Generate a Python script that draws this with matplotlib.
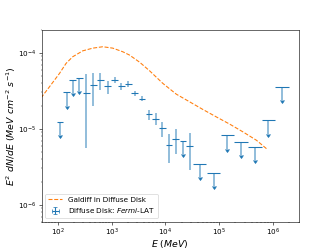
import numpy as np
import matplotlib
matplotlib.use("Agg")
import matplotlib.pyplot as plt

# model curve (Galdiff)
model_e = [49, 70, 108, 143, 190, 292, 448, 687, 1055, 1618, 2157, 3330,
           5080, 8970, 15950, 28200, 49870, 88530, 156400, 276600, 491300, 770000]
model_f = [2.55e-5, 3.55e-5, 5.35e-5, 7.25e-5, 8.86e-5, 1.06e-4, 1.15e-4, 1.20e-4,
           1.15e-4, 1.03e-4, 9.32e-5, 7.5e-5, 5.79e-5, 3.95e-5, 2.85e-5, 2.26e-5,
           1.79e-5, 1.43e-5, 1.15e-5, 9.08e-6, 7.05e-6, 5.4e-6]

# Fermi-LAT spectral points
energy = [111, 147, 190, 253, 338, 456, 623, 851, 1135, 1513, 2043, 2675, 3656,
          4934, 6577, 8750, 11610, 15480, 21170, 28200, 43250, 78900, 141900,
          254200, 457000, 820300, 1469000]
e_lo = [96, 127, 165, 219, 293, 395, 540, 737, 983, 1310, 1769, 2317, 3166,
        4273, 5696, 7578, 10050, 13410, 18330, 24420, 32440, 59180, 106400,
        190700, 342800, 615200, 1101800]
e_hi = [128, 170, 219, 292, 390, 527, 720, 983, 1311, 1748, 2360, 3090, 4223,
        5699, 7596, 10110, 13410, 17880, 24450, 32570, 57700, 105300, 189300,
        339100, 609600, 1094300, 1959600]
flux = [1.23e-5, 3.01e-5, 4.37e-5, 4.68e-5, 2.91e-5, 3.75e-5, 4.37e-5, 3.64e-5,
        4.37e-5, 3.64e-5, 3.87e-5, 2.91e-5, 2.50e-5, 1.55e-5, 1.36e-5, 1.01e-5,
        6.05e-6, 7.43e-6, 6.90e-6, 5.87e-6, 3.48e-6, 2.64e-6, 8.20e-6, 6.70e-6,
        5.75e-6, 1.29e-5, 3.56e-5]
flux_lo = [None, None, None, None, 5.58e-6, 1.98e-5, 3.22e-5, 2.85e-5, 3.95e-5,
           3.22e-5, 3.50e-5, 2.69e-5, 2.33e-5, 1.32e-5, 1.11e-5, 7.80e-6, 3.54e-6,
           4.71e-6, None, 2.90e-6, None, None, None, None, None, None, None]
flux_hi = [None, None, None, None, 5.24e-5, 5.35e-5, 5.45e-5, 4.28e-5, 4.82e-5,
           3.95e-5, 4.23e-5, 3.16e-5, 2.69e-5, 1.79e-5, 1.59e-5, 1.23e-5, 8.45e-6,
           9.85e-6, None, 8.91e-6, None, None, None, None, None, None, None]

arrow_frac = 0.33  # length of the upper-limit arrows

e = np.array(energy, float)
f = np.array(flux, float)
is_ul = np.array([v is None for v in flux_lo])
lo = np.array([f[i] * arrow_frac if is_ul[i] else f[i] - flux_lo[i] for i in range(len(f))])
hi = np.array([0.0 if is_ul[i] else flux_hi[i] - f[i] for i in range(len(f))])
xerr = [e - np.array(e_lo), np.array(e_hi) - e]

fig, ax = plt.subplots(figsize=(6.4, 4.8))

ax.plot(model_e, model_f, "--", color="C1", label="Galdiff in Diffuse Disk")
eb = ax.errorbar(e, f, xerr=xerr, yerr=[lo, hi], uplims=is_ul, fmt="none",
                 ecolor="C0", label=r"Diffuse Disk: $\it{Fermi}$-LAT")
eb[2][1].set_alpha(0.6)
eb[2][1].set_linewidth(2.2)

ax.set_xscale("log")
ax.set_yscale("log")
ax.set_xlim(50, 3e6)
ax.set_ylim(6e-7, 2e-4)
ax.set_xlabel(r"$E\ (MeV)$", fontsize=13, labelpad=0)
ax.set_ylabel(r"$E^2\ dN/dE\ (MeV\ cm^{-2}\ s^{-1})$", fontsize=13, labelpad=0)
ax.legend(loc="lower left")

fig.savefig("out.png", dpi=332 / 6.4)
